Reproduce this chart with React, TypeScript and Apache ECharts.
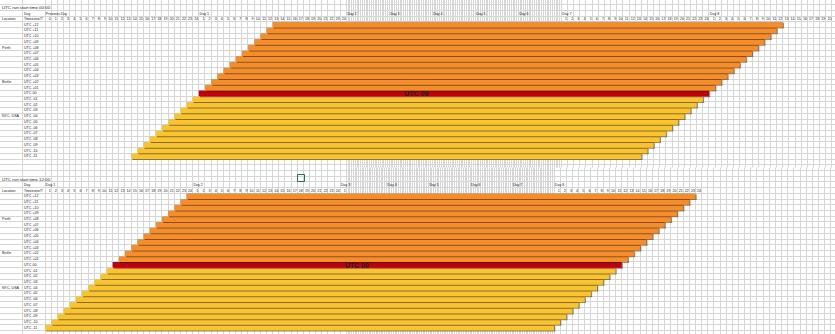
import React, { useEffect, useRef } from "react";
import * as echarts from "echarts";

// ---------- data ----------
const ROW_LABELS = [
  "UTC +12", "UTC +11", "UTC +10", "UTC +09", "UTC +08", "UTC +07", "UTC +06", "UTC +05",
  "UTC +04", "UTC +03", "UTC +02", "UTC +01", "UTC 00", "UTC -01", "UTC -02", "UTC -03",
  "UTC -04", "UTC -05", "UTC -06", "UTC -07", "UTC -08", "UTC -09", "UTC -10", "UTC -11",
];
const UTC_OFFSETS = [12, 11, 10, 9, 8, 7, 6, 5, 4, 3, 2, 1, 0, -1, -2, -3, -4, -5, -6, -7, -8, -9, -10, -11];
const LOCATIONS = ["", "", "", "", "Perth", "", "", "", "", "", "Berlin", "", "", "", "", "", "NYC, USA", "", "", "", "", "", "", ""];
const RUN_HOURS = 168;
// start column (hour slot) of each row's run, counted from the first hour column
const TOP_START_SLOTS = [37, 36, 35, 34, 33, 32, 31, 30, 29, 28, 27, 26, 25, 24, 23, 22, 21, 20, 19, 18, 17, 16, 15, 14];
const BOTTOM_START_SLOTS = [23, 22, 21, 20, 19, 18, 17, 16, 15, 14, 13, 12, 11, 10, 9, 8, 7, 6, 5, 4, 3, 2, 1, 0];

const PREV_DAY_HOURS = ["0", "1", "2", "3", "4", "5", "6", "7", "8", "9", "10", "11", "12", "13", "14", "15", "16", "17", "18", "19", "20", "21", "22", "23", "24"];
const DAY_HOURS = ["1", "2", "3", "4", "5", "6", "7", "8", "9", "10", "11", "12", "13", "14", "15", "16", "17", "18", "19", "20", "21", "22", "23", "24"];

const TOP_DAY_LABELS = ["Previous Day", "Day 1", "Day 2", "Day 3", "Day 4", "Day 5", "Day 6", "Day 7", "Day 8"];
const TOP_DAY_SLOTS = [0, 25, 49, 73, 97, 121, 145, 169, 193];
const BOTTOM_DAY_LABELS = ["Day 1", "Day 2", "Day 3", "Day 4", "Day 5", "Day 6", "Day 7", "Day 8"];
const BOTTOM_DAY_SLOTS = [0, 24, 48, 72, 96, 120, 144, 168];

const TOP_TITLE = "UTC run start time 00:00";
const BOTTOM_TITLE = "UTC run start time 12:00";
const MARK_TEXT = "UTC 00";
const TOP_MARK_SLOT = 88;
const BOTTOM_MARK_SLOT = 55;

// ---------- layout / style ----------
const W = 835;
const H = 334;
const COL_W = 6.15;
const X0 = 45;
const COLB_X = 22.7;
const ROW_H = 5.72;
const XMAX = 130;
const FONT = "Liberation Sans, Arial, sans-serif";
const TXT = "#222222";
const FS = 3.6;
const GRIDLINE = "#d6d6d6";
const ORANGE = "#F68D2B";
const RED = "#C0000C";
const YELLOW = "#F9C430";
const SHADOW = "rgba(0,0,0,0.45)";

interface Section {
  rowTop: number;
  narrowStart: number;
  narrowCount: number;
  narrowW: number;
  title: string;
  starts: number[];
  dayLabels: string[];
  daySlots: number[];
  hourRuns: { start: number; labels: string[] }[];
  markSlot: number;
  lineY0: number;
  lineY1: number;
  hLineK: [number, number];
}

const SECTIONS: Section[] = [
  {
    rowTop: 21.8,
    narrowStart: 49,
    narrowCount: 120,
    narrowW: 1.792,
    title: TOP_TITLE,
    starts: TOP_START_SLOTS,
    dayLabels: TOP_DAY_LABELS,
    daySlots: TOP_DAY_SLOTS,
    hourRuns: [
      { start: 0, labels: PREV_DAY_HOURS },
      { start: 25, labels: DAY_HOURS },
      { start: 169, labels: DAY_HOURS },
      { start: 193, labels: DAY_HOURS },
    ],
    markSlot: TOP_MARK_SLOT,
    lineY0: 0,
    lineY1: 167.5,
    hLineK: [-3, 25],
  },
  {
    rowTop: 193.3,
    narrowStart: 49,
    narrowCount: 119,
    narrowW: 1.745,
    title: BOTTOM_TITLE,
    starts: BOTTOM_START_SLOTS,
    dayLabels: BOTTOM_DAY_LABELS,
    daySlots: BOTTOM_DAY_SLOTS,
    hourRuns: [
      { start: 0, labels: DAY_HOURS },
      { start: 24, labels: DAY_HOURS },
      { start: 48, labels: ["1"] },
      { start: 168, labels: DAY_HOURS },
    ],
    markSlot: BOTTOM_MARK_SLOT,
    lineY0: 167.5,
    lineY1: H,
    hLineK: [-4, 24],
  },
];

function makeMapper(sec: Section) {
  const r = sec.narrowW / COL_W;
  return (slot: number) => {
    if (slot <= sec.narrowStart) return slot;
    if (slot <= sec.narrowStart + sec.narrowCount) return sec.narrowStart + (slot - sec.narrowStart) * r;
    return sec.narrowStart + sec.narrowCount * r + (slot - sec.narrowStart - sec.narrowCount);
  };
}

function barColor(off: number) {
  if (off > 0) return ORANGE;
  if (off === 0) return RED;
  return YELLOW;
}

function buildOption() {
  const grids: any[] = [];
  const xAxes: any[] = [];
  const yAxes: any[] = [];
  const series: any[] = [];
  const graphics: any[] = [];

  SECTIONS.forEach((sec, si) => {
    const toDisp = makeMapper(sec);
    const toX = (slot: number) => X0 + toDisp(slot) * COL_W;

    grids.push({
      left: X0,
      top: sec.rowTop,
      width: XMAX * COL_W,
      height: ROW_LABELS.length * ROW_H,
      containLabel: false,
      outerBoundsMode: "none",
    });
    xAxes.push({ type: "value", gridIndex: si, min: 0, max: XMAX, show: false });
    const yBase = {
      type: "category",
      gridIndex: si,
      position: "left",
      offset: 0,
      data: ROW_LABELS,
      inverse: true,
      axisLine: { show: false },
      axisTick: { show: false },
      splitLine: { show: false },
    };
    yAxes.push({
      ...yBase,
      axisLabel: { interval: 0, align: "left", margin: X0 - 24, fontSize: FS, color: TXT, fontFamily: FONT },
    });
    yAxes.push({
      ...yBase,
      axisLabel: {
        interval: 0,
        align: "left",
        margin: X0 - 2,
        fontSize: FS,
        color: TXT,
        fontFamily: FONT,
        formatter: (_v: string, i: number) => LOCATIONS[i],
      },
    });

    // bars
    const barData = sec.starts.map((s, i) => [toDisp(s), i, toDisp(s + RUN_HOURS)]);
    series.push({
      type: "custom",
      xAxisIndex: si,
      yAxisIndex: si * 2,
      silent: true,
      encode: { x: 0, y: 1 },
      data: barData,
      renderItem: (params: any, api: any) => {
        const i = params.dataIndex;
        const a = api.coord([api.value(0), api.value(1)]);
        const b = api.coord([api.value(2), api.value(1)]);
        const h = api.size([0, 1])[1];
        const y = a[1] - h / 2;
        const w = b[0] - a[0];
        const zb = (ROW_LABELS.length - i) * 2;
        return {
          type: "group",
          children: [
            { type: "rect", shape: { x: a[0] + 1.2, y: y + 1, width: w, height: h }, style: { fill: SHADOW }, z2: zb },
            { type: "rect", shape: { x: a[0], y, width: w, height: h }, style: { fill: barColor(UTC_OFFSETS[i]) }, z2: zb + 1 },
          ],
        };
      },
    });

    // mark label on the UTC 00 run
    const markRow = UTC_OFFSETS.indexOf(0);
    series.push({
      type: "custom",
      xAxisIndex: si,
      yAxisIndex: si * 2,
      silent: true,
      z: 4,
      itemStyle: { color: "#1e1e1e" },
      encode: { x: 0, y: 1 },
      data: [[toDisp(sec.markSlot), markRow]],
      renderItem: (_p: any, api: any) => {
        const p = api.coord([api.value(0), api.value(1)]);
        return {
          type: "text",
          x: p[0],
          y: p[1] + 0.3,
          style: { text: MARK_TEXT, fill: "#1e1e1e", fontSize: 7, fontWeight: "bold", fontFamily: FONT, align: "center", verticalAlign: "middle" },
        };
      },
    });

    // header labels (day names, hour numbers)
    const items: { slot: number; text: string; align: string; back: number }[] = [];
    sec.dayLabels.forEach((t, k) => items.push({ slot: sec.daySlots[k], text: t, align: "left", back: 2 }));
    sec.hourRuns.forEach((run) =>
      run.labels.forEach((t, k) => {
        const s = run.start + k;
        if (toX(s + 1) - 0.5 <= W - 0.5) items.push({ slot: s + 1, text: t, align: "right", back: 1 });
      })
    );
    series.push({
      type: "custom",
      xAxisIndex: si,
      yAxisIndex: si * 2,
      silent: true,
      itemStyle: { color: TXT },
      encode: { x: 0, y: 1 },
      data: items.map((it) => [toDisp(it.slot), 0]),
      renderItem: (params: any, api: any) => {
        const it = items[params.dataIndex];
        const p = api.coord([api.value(0), 0]);
        const h = api.size([0, 1])[1];
        const y = p[1] - h / 2 - (it.back - 0.5) * h;
        return {
          type: "text",
          x: p[0] + (it.align === "right" ? -0.5 : 0.8),
          y: y + 0.3,
          style: { text: it.text, fill: TXT, fontSize: FS, fontFamily: FONT, align: it.align, verticalAlign: "middle" },
        };
      },
    });

    // sheet grid lines
    const vx: number[] = [COLB_X, X0];
    for (let s = 1; s < 400; s++) {
      const x = toX(s);
      if (x > W) break;
      vx.push(x);
    }
    vx.forEach((x) => {
      const px = Math.floor(x) + 0.5;
      graphics.push({
        type: "line",
        silent: true,
        z: 0,
        shape: { x1: px, y1: sec.lineY0, x2: px, y2: sec.lineY1 },
        style: { stroke: GRIDLINE, lineWidth: 1 },
      });
    });
    for (let k = sec.hLineK[0]; k <= sec.hLineK[1]; k++) {
      const y = sec.rowTop + k * ROW_H;
      if (y < 0 || y > H) continue;
      const py = Math.floor(y) + 0.5;
      graphics.push({
        type: "line",
        silent: true,
        z: 0,
        shape: { x1: 0, y1: py, x2: W, y2: py },
        style: { stroke: GRIDLINE, lineWidth: 1 },
      });
    }

    // fixed texts in columns A / B
    const txt = (text: string, x: number, y: number, extra: any = {}) =>
      graphics.push({
        type: "text",
        silent: true,
        z: 5,
        x,
        y,
        style: { text, fill: TXT, fontSize: FS, fontFamily: FONT, align: "left", verticalAlign: "middle", ...extra },
      });
    txt(sec.title, 2, sec.rowTop - 2.5 * ROW_H + 0.2, { fontSize: 4.4 });
    txt("Day", 24, sec.rowTop - 1.5 * ROW_H + 0.3);
    txt("Location", 2, sec.rowTop - 0.5 * ROW_H + 0.3);
    txt("Timezone/TV", 24, sec.rowTop - 0.5 * ROW_H + 0.3, { width: 20.6, overflow: "truncate", ellipsis: "" });
  });

  // active-cell marker
  graphics.push({
    type: "rect",
    silent: true,
    z: 6,
    shape: { x: 297.5, y: 174.5, width: 7, height: 7 },
    style: { fill: "rgba(0,0,0,0)", stroke: "#217346", lineWidth: 1 },
  });

  return {
    animation: false,
    backgroundColor: "#ffffff",
    grid: grids,
    xAxis: xAxes,
    yAxis: yAxes,
    series,
    graphic: { elements: graphics },
  };
}

export default function App() {
  const ref = useRef<HTMLDivElement>(null);
  useEffect(() => {
    if (!ref.current) return;
    const chart = echarts.init(ref.current, null, { renderer: "svg" });
    chart.setOption(buildOption() as any);
    return () => chart.dispose();
  }, []);
  return <div ref={ref} style={{ position: "fixed", left: 0, top: 0, width: W, height: H }} />;
}
